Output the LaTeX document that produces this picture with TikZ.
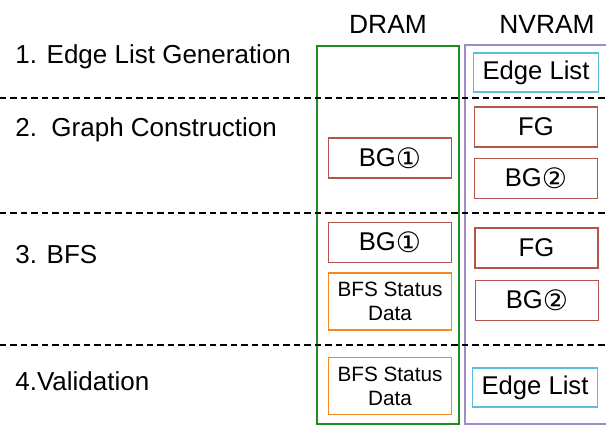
\documentclass[tikz,border=0pt]{standalone}
\usepackage{fontspec}
\setmainfont{Liberation Sans}
\newfontfamily\circfont{DejaVu Sans}
\usepackage{xcolor}
\definecolor{dramgreen}{RGB}{30,140,30}
\definecolor{nvpurple}{RGB}{160,140,200}
\definecolor{elcyan}{RGB}{90,190,215}
\definecolor{bgred}{RGB}{180,85,75}
\definecolor{bfsorange}{RGB}{245,135,35}
\newcommand{\circnum}[1]{\raisebox{-1.2pt}{\circfont\fontsize{16}{17}\selectfont #1}}

\begin{document}
\begin{tikzpicture}[x=0.02cm,y=-0.02cm]
\tikzstyle{phase} = [anchor=base west, inner sep=0pt, font=\fontsize{14.8}{17}\selectfont]
\tikzstyle{memlabel} = [anchor=base, inner sep=0pt, font=\fontsize{15}{17}\selectfont]
\tikzstyle{block} = [rectangle, draw, line width=0.9pt, minimum width=2.46cm,
minimum height=0.8cm, inner sep=1pt, align=center, font=\fontsize{14.6}{17}\selectfont]
\tikzstyle{elist} = [block, draw=elcyan, minimum width=2.5cm, minimum height=0.78cm]
\tikzstyle{graph} = [block, draw=bgred]
\tikzstyle{status} = [block, draw=bfsorange, minimum height=1.14cm,
font=\fontsize{11.8}{13.6}\selectfont]
\tikzstyle{sep} = [draw, line width=1.1pt, dash pattern=on 0.13cm off 0.08cm]
\useasboundingbox (0,0) rectangle (606,426);

% memories
\draw[dramgreen, line width=1.1pt] (317,46) rectangle (459,424);
\draw[nvpurple, line width=1.1pt] (465,45) rectangle (612,424);
\node[memlabel] (dram) at (388,33) {DRAM};
\node[memlabel] (nvram) at (547,33) {NVRAM};

% phase separators
\path[sep] (0,98) -- (606,98);
\path[sep] (0,213) -- (606,213);
\path[sep] (0,345) -- (606,345);

% phase 1
\node[phase] (gen) at (15,63) {1. Edge List Generation};
\node[elist] (el1) at (536,72.5) {Edge List};
% phase 2
\node[phase] (cons) at (15,136) {2.\ \ Graph Construction};
\node[graph] (bg1a) at (390,158) {BG\circnum{①}};
\node[graph] (fg1) at (536,127) {FG};
\node[graph] (bg2a) at (536,178.5) {BG\circnum{②}};
% phase 3
\node[phase] (bfs) at (15,263) {3. BFS};
\node[graph] (bg1b) at (390,242.5) {BG\circnum{①}};
\node[status] (st1) at (390,301.5) {BFS Status\\Data};
\node[graph] (fg2) at (536.5,248) {FG};
\node[graph] (bg2b) at (537,300.5) {BG\circnum{②}};
% phase 4
\node[phase] (valid) at (15,390) {4.Validation};
\node[status] (st2) at (390,386) {BFS Status\\Data};
\node[elist] (el2) at (535,387.5) {Edge List};
\end{tikzpicture}
\end{document}
